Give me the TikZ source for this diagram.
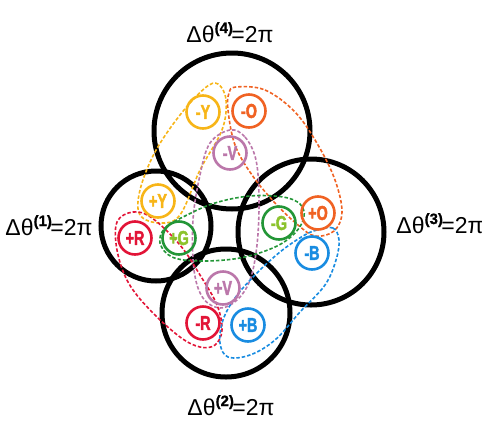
\documentclass[tikz,border=0pt]{standalone}
\usepackage{fontspec}
\setmainfont{Liberation Sans}
\newfontfamily\tagfont[FakeStretch=0.72, FakeBold=2]{Liberation Sans Bold}
\newfontfamily\supfont[FakeBold=1]{Liberation Sans Bold}
\usetikzlibrary{positioning}
\definecolor{qyellow}{RGB}{247,181,24}
\definecolor{qorange}{RGB}{240,98,35}
\definecolor{qviolet}{RGB}{187,119,170}
\definecolor{qred}{RGB}{226,20,55}
\definecolor{qgreen}{RGB}{35,150,55}
\definecolor{qgreentxt}{RGB}{140,195,45}
\definecolor{qblue}{RGB}{25,140,225}

\begin{document}
\begin{tikzpicture}[x=1pt, y=-1pt,
  ring/.style={circle, draw=black, line width=5pt, inner sep=0pt},
  tag/.style={circle, line width=2.6pt, minimum size=33pt, inner sep=0pt,
    font=\tagfont\fontsize{20}{20}\selectfont},
  pairloop/.style={line width=1.6pt, dash pattern=on 3.5pt off 2pt},
  winding/.style={anchor=base, font=\fontsize{23}{23}\selectfont}]
  \useasboundingbox (0,0) rectangle (482,421);
  % Winding circles
  \node[ring, minimum size=156pt] (ring4) at (232,131) {};
  \node[ring, minimum size=110pt] (ring1) at (156,226) {};
  \node[ring, minimum size=146pt] (ring3) at (311,232) {};
  \node[ring, minimum size=128pt] (ring2) at (226,313) {};
  % Labels
  \node[winding] (lab4) at (230,42) {Δθ\raisebox{9pt}{\supfont\fontsize{15}{15}\selectfont(4)}\kern-1.5pt=2π};
  \node[winding] (lab1) at (49,235) {Δθ\raisebox{9pt}{\supfont\fontsize{15}{15}\selectfont(1)}\kern-1.5pt=2π};
  \node[winding] (lab3) at (440,233) {Δθ\raisebox{9pt}{\supfont\fontsize{15}{15}\selectfont(3)}\kern-1.5pt=2π};
  \node[winding] (lab2) at (231,415) {Δθ\raisebox{9pt}{\supfont\fontsize{15}{15}\selectfont(2)}\kern-1.5pt=2π};
  % Pair loops
  \draw[pairloop, qyellow] plot[smooth cycle, tension=0.6] coordinates {(218,84) (226,100) (222,130) (200,170) (180,215) (160,223) (140,215) (140,190) (155,152) (180,115) (205,88)};
  \draw[pairloop, qorange] plot[smooth cycle, tension=0.6] coordinates {(236,87) (265,90) (295,112) (318,145) (335,180) (342,212) (334,231) (315,236) (298,225) (275,203) (252,175) (235,145) (228,110) (229,93)};
  \draw[pairloop, qviolet] plot[smooth cycle, tension=0.6] coordinates {(230,130) (245,137) (256,160) (259,200) (257,245) (250,280) (237,300) (220,308) (203,298) (194,270) (193,220) (200,175) (210,143)};
  \draw[pairloop, qgreen] plot[smooth cycle, tension=0.6] coordinates {(160,243) (165,228) (185,216) (215,203) (250,196) (283,197) (300,204) (304,217) (295,233) (275,247) (240,258) (200,261) (172,257)};
  \draw[pairloop, qred] plot[smooth cycle, tension=0.6] coordinates {(117,222) (133,212) (152,218) (180,245) (200,275) (217,305) (222,330) (215,345) (200,347) (180,337) (150,310) (128,282) (117,250)};
  \draw[pairloop, qblue] plot[smooth cycle, tension=0.6] coordinates {(317,230) (333,228) (339,240) (336,260) (325,285) (300,312) (275,340) (250,355) (228,357) (220,343) (223,320) (235,298) (255,275) (280,252) (303,236)};
  % Charges
  \foreach \nm/\px/\py/\col/\tc/\txt in {
      mY/203/112/qyellow/qyellow/-Y, mO/249/111/qorange/qorange/-O,
      mV/230/153/qviolet/qviolet/-V, pY/158/201/qyellow/qyellow/+Y,
      pR/135/238/qred/qred/+R, pG/179/238/qgreen/qgreentxt/+G,
      mG/279/223/qgreen/qgreentxt/-G, pO/318/213/qorange/qorange/+O,
      mB/312/253/qblue/qblue/-B, pV/223/288/qviolet/qviolet/+V,
      mR/203/323/qred/qred/-R, pB/248/325/qblue/qblue/+B}
    \node[tag, draw=\col, text=\tc] (\nm) at (\px,\py) {\txt};
\end{tikzpicture}
\end{document}
